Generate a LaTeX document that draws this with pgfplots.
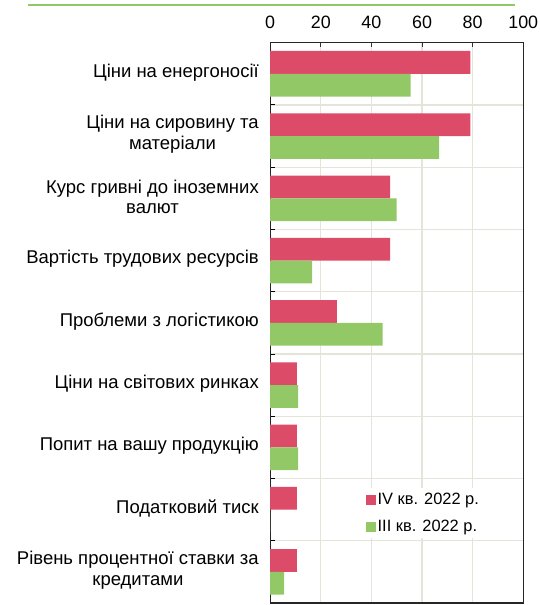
\documentclass[border=0pt]{standalone}
\usepackage{fontspec}
\setmainfont{Liberation Sans}
\usepackage{pgfplots}
\pgfplotsset{compat=1.18}
\definecolor{cred}{RGB}{220,75,103}
\definecolor{cgreen}{RGB}{146,201,102}
\definecolor{cgrid}{RGB}{228,228,218}
\begin{document}
\begin{tikzpicture}
\begin{axis}[
  name=ax,
  scale only axis, width=254.7bp, height=564bp,
  xmin=0, xmax=100, ymin=-0.5, ymax=8.5, y dir=reverse,
  xbar, bar width=23bp,
  xtick={0,20,...,100}, xtick pos=right, xticklabel pos=right,
  ytick={0,...,8}, minor ytick={0.5,1.5,...,7.5}, ytick pos=left,
  yticklabels={Ціни на енергоносії,{Ціни на сировину та\\матеріали},{Курс гривні до іноземних\\валют},Вартість трудових ресурсів,Проблеми з логістикою,Ціни на світових ринках,Попит на вашу продукцію,Податковий тиск,{Рівень процентної ставки за\\кредитами}},
  major y tick style={draw=none},
  minor y tick style={black, line width=1bp},
  major x tick style={black!80, line width=1bp},
  major tick length=4bp, minor tick length=5bp, tick align=inside,
  xmajorgrids, yminorgrids,
  grid style={cgrid, line width=1.3bp},
  axis line style={black!85, line width=1.4bp},
  /pgf/number format/assume math mode=true,
  xticklabel style={font=\fontsize{18bp}{21bp}\selectfont, text=black, yshift=11bp},
  yticklabel style={font=\fontsize{18.6bp}{21bp}\selectfont, text=black, align=center, xshift=-8bp, yshift=1.5bp},
  legend style={at={(rel axis cs:0.365,0.205)}, anchor=north west, draw=none, fill=white,
    font=\fontsize{16.5bp}{19bp}\selectfont, row sep=10bp, inner sep=3bp},
  legend cell align=left,
  legend image code/.code={\fill[#1,draw=none] (0bp,-5bp) rectangle (10bp,5bp);},
]
\addplot[fill=cred, draw=none, /pgf/bar shift=11.5bp] coordinates {
(79.1,0) (79.1,1) (47.4,2) (47.4,3) (26.3,4) (10.5,5) (10.5,6) (10.5,7) (10.5,8)};
\addlegendentry{IV кв. 2022 р.}
\addplot[fill=cgreen, draw=none, /pgf/bar shift=-11.5bp] coordinates {
(55.5,0) (66.8,1) (50.0,2) (16.6,3) (44.4,4) (11.0,5) (11.0,6) (0,7) (5.5,8)};
\addlegendentry{III кв. 2022 р.}
\end{axis}
\draw[cgreen, line width=2bp] ([xshift=-244bp, yshift=38bp]ax.north west) -- ([xshift=246bp, yshift=38bp]ax.north west);
\pgfresetboundingbox
\path ([xshift=-272bp, yshift=-2bp]ax.south west) rectangle ([xshift=16.3bp, yshift=43bp]ax.north east);
\end{tikzpicture}
\end{document}
